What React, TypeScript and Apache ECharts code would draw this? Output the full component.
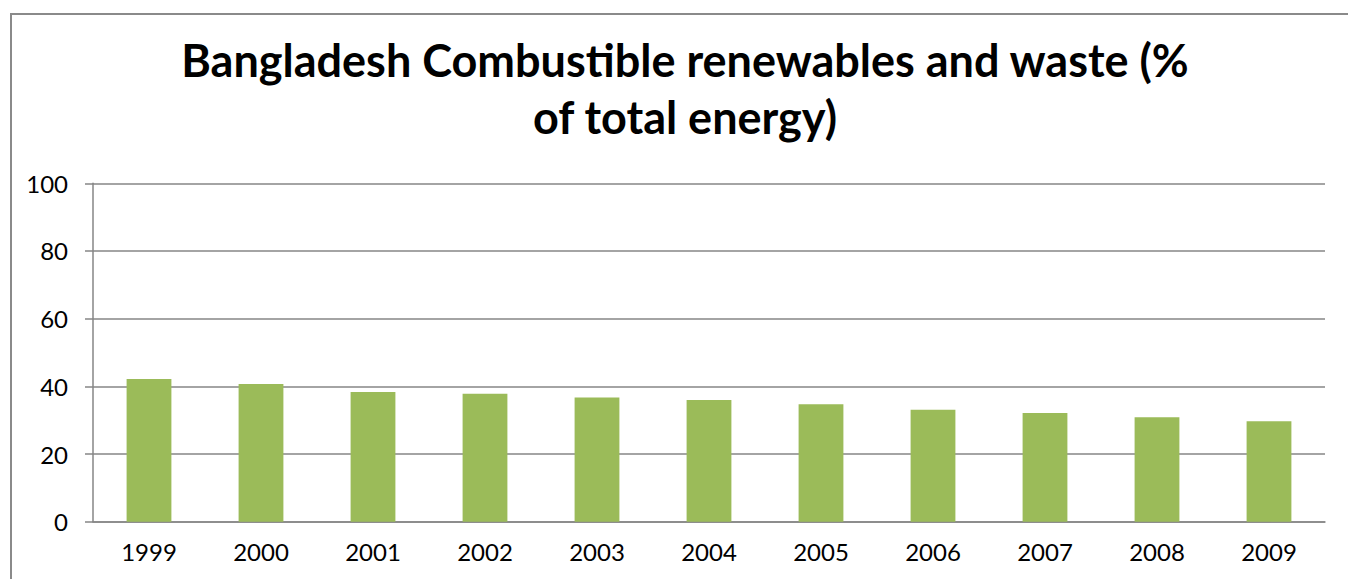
import React, { useEffect, useRef } from "react";
import * as echarts from "echarts";

const years = ["1999", "2000", "2001", "2002", "2003", "2004", "2005", "2006", "2007", "2008", "2009"];
const values = [42.2, 40.7, 38.3, 37.8, 36.7, 36.0, 34.7, 33.1, 32.1, 30.9, 29.7];
const titleText = "Bangladesh Combustible renewables and waste (%\nof total energy)";

export default function App() {
  const ref = useRef<HTMLDivElement>(null);
  useEffect(() => {
    document.body.style.margin = "0";
    document.body.style.overflow = "hidden";
    if (!ref.current) return;
    const chart = echarts.init(ref.current, null, { renderer: "svg" });
    chart.setOption({
      animation: false,
      backgroundColor: "#ffffff",
      title: {
        text: titleText,
        left: 680,
        textAlign: "center",
        top: 26,
        textStyle: {
          fontFamily: "Lato",
          fontWeight: "bold",
          fontSize: 45,
          lineHeight: 57,
          color: "#000000",
        },
      },
      graphic: [
        {
          type: "line",
          shape: { x1: 10, y1: 14, x2: 1348, y2: 14 },
          style: { stroke: "#8a8a8a", lineWidth: 2 },
          silent: true,
        },
        {
          type: "line",
          shape: { x1: 11, y1: 13, x2: 11, y2: 579 },
          style: { stroke: "#8a8a8a", lineWidth: 2 },
          silent: true,
        },
      ],
      grid: { left: 93, right: 23, top: 183.3, bottom: 57.3 },
      xAxis: {
        type: "category",
        data: years,
        axisLine: { lineStyle: { color: "#868686", width: 1.5 } },
        axisTick: { length: 8, lineStyle: { color: "#868686", width: 1.5 } },
        axisLabel: { color: "#000000", fontFamily: "Lato", fontSize: 24, margin: 18 },
      },
      yAxis: {
        type: "value",
        min: 0,
        max: 100,
        interval: 20,
        axisLine: { show: true, lineStyle: { color: "#868686", width: 1.5 } },
        axisTick: { show: true, length: 8, lineStyle: { color: "#868686", width: 1.5 } },
        splitLine: { lineStyle: { color: "#868686", width: 1.5 } },
        axisLabel: { color: "#000000", fontFamily: "Lato", fontSize: 24, margin: 25 },
      },
      series: [
        {
          type: "bar",
          data: values,
          barWidth: "40%",
          itemStyle: { color: "#9BBB59" },
        },
      ],
    });
    return () => chart.dispose();
  }, []);
  return <div ref={ref} style={{ width: 1348, height: 579 }} />;
}
